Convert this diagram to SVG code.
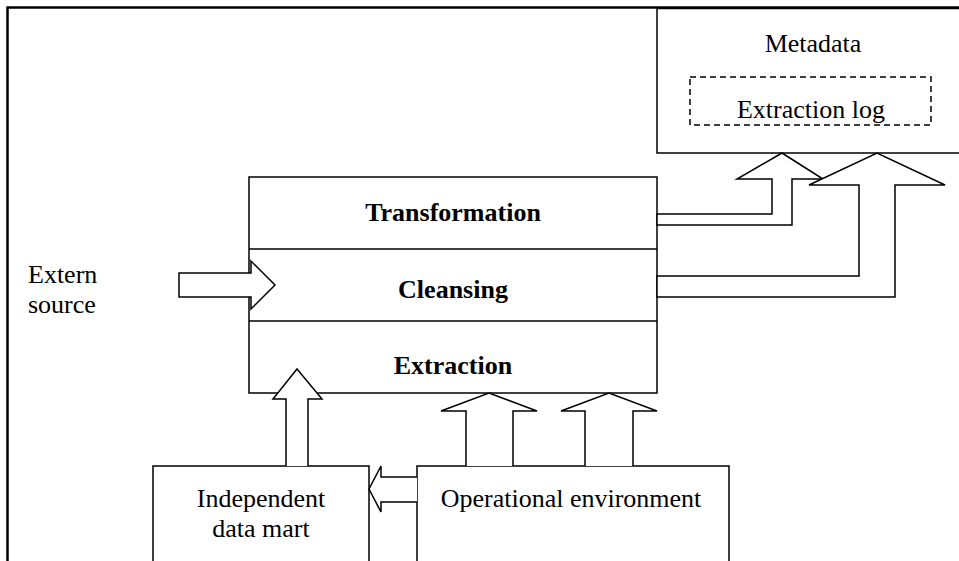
<svg xmlns="http://www.w3.org/2000/svg" width="959" height="561" viewBox="0 0 959 561">
  <style>
    .box { fill: #fff; stroke: #000; stroke-width: 1.5; }
    .frame { fill: none; stroke: #000; stroke-width: 2.5; }
    .dash { fill: none; stroke: #000; stroke-width: 1.5; stroke-dasharray: 6 4; }
    .arrow { fill: #fff; stroke: #000; stroke-width: 1.5; stroke-linejoin: miter; }
    .lbl { font-family: "Liberation Serif", "Times New Roman", serif; font-size: 26px; fill: #000; }
    .b { font-weight: bold; }
    .mid { text-anchor: middle; }
  </style>
  <rect width="959" height="561" fill="#fff"/>

  <!-- outer frame -->
  <path class="frame" d="M7.5,561 V7.5 H959"/>

  <g id="metadata">
    <path class="box" d="M959,153 H657 V8.5 H959"/>
    <text class="lbl mid" x="813" y="52">Metadata</text>
    <g id="extraction-log">
      <rect class="dash" x="690" y="77" width="241" height="48"/>
      <text class="lbl mid" x="811" y="118">Extraction log</text>
    </g>
  </g>

  <g id="etl-stack">
    <rect class="box" x="249" y="177" width="408" height="216"/>
    <line class="box" x1="249" y1="249" x2="657" y2="249"/>
    <line class="box" x1="249" y1="321" x2="657" y2="321"/>
    <text class="lbl b mid" x="453" y="221">Transformation</text>
    <text class="lbl b mid" x="453" y="298">Cleansing</text>
    <text class="lbl b mid" x="453" y="374">Extraction</text>
  </g>

  <g id="extern-source">
    <text class="lbl" x="28" y="283">Extern</text>
    <text class="lbl" x="28" y="313">source</text>
  </g>

  <g id="independent-data-mart">
    <rect class="box" x="153" y="466" width="216" height="110"/>
    <text class="lbl mid" x="261" y="507">Independent</text>
    <text class="lbl mid" x="261" y="537">data mart</text>
  </g>

  <g id="operational-environment">
    <rect class="box" x="417" y="466" width="312" height="110"/>
    <text class="lbl mid" x="571" y="507">Operational environment</text>
  </g>

  <g id="connectors">
    <!-- stack to metadata -->
    <path class="arrow" d="M657,214 H772 V179 H737 L782,153 L823,179 H792 V225 H657 Z"/>
    <path class="arrow" d="M657,276 H859 V185 H809 L877,153 L945,185 H895 V297 H657 Z"/>
    <!-- extern source into cleansing -->
    <path class="arrow" d="M179,273 H251 V261 L275,285 L251,309 V297 H179 Z"/>
    <!-- data mart up into extraction -->
    <path class="arrow" d="M286,466 V399 H273 L297,369 L322,399 H308 V466"/>
    <!-- operational environment up into extraction -->
    <path class="arrow" d="M466,466 V411 H441 L489,393 L537,411 H513 V466"/>
    <path class="arrow" d="M585,466 V411 H561 L609,393 L657,411 H633 V466"/>
    <!-- operational environment to data mart -->
    <path class="arrow" d="M417,477 H381 V466 L369,489 L381,512 V502 H417"/>
  </g>
</svg>
